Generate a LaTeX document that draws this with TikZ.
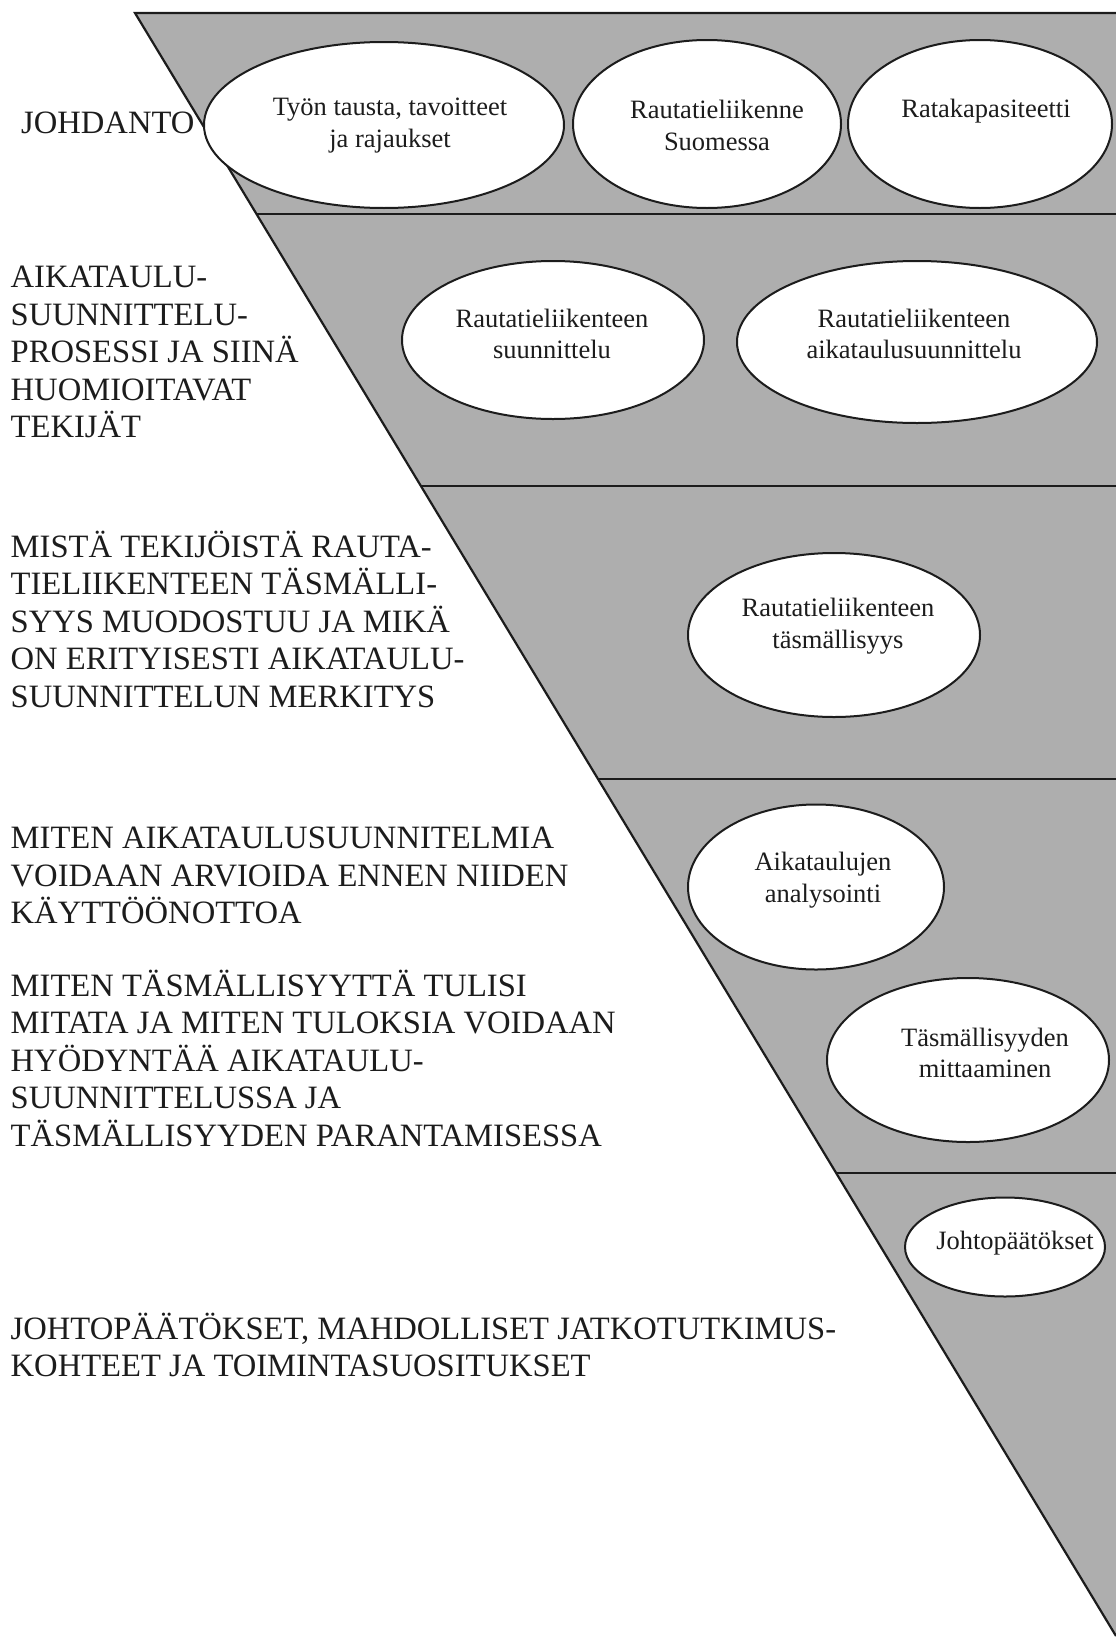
\documentclass[tikz,border=0pt]{standalone}
\usepackage{fontspec}
\setmainfont{Liberation Serif}
\usetikzlibrary{shapes.geometric,calc}
\definecolor{band}{RGB}{174,174,174}
\definecolor{ink}{RGB}{28,28,28}
\begin{document}
\begin{tikzpicture}[x=1pt,y=-1pt,
  oval/.style={draw=ink, line width=2pt, fill=white, ellipse, inner sep=0pt},
  intext/.style={text=ink, align=center, font=\fontsize{26.5}{31.5}\selectfont, inner sep=0pt},
  lefttext/.style={text=ink, align=left, font=\fontsize{32.6}{37.5}\selectfont, inner sep=0pt, anchor=base west},
  rulestyle/.style={draw=ink, line width=2.2pt}]
\useasboundingbox (0,0) rectangle (1116,1638);
\coordinate (A) at (135,13);
\coordinate (B) at (1116,1636);
\coordinate (R) at (1116,13);
\fill[band] (A) -- (R) -- (B) -- cycle;
\coordinate (d1) at ($(A)!0.12384!(B)$);
\coordinate (d2) at ($(A)!0.29144!(B)$);
\coordinate (d3) at ($(A)!0.47197!(B)$);
\coordinate (d4) at ($(A)!0.71473!(B)$);
\draw[rulestyle] (B) -- (A) -- (R);
\draw[rulestyle] (d1) -- (d1 -| R);
\draw[rulestyle] (d2) -- (d2 -| R);
\draw[rulestyle] (d3) -- (d3 -| R);
\draw[rulestyle] (d4) -- (d4 -| R);

% ellipses
\node[oval, minimum width=360pt, minimum height=166pt] (e1) at (384,125) {};
\node[oval, minimum width=268pt, minimum height=168pt] (e2) at (707,124) {};
\node[oval, minimum width=264pt, minimum height=168pt] (e3) at (980,124) {};
\node[oval, minimum width=302pt, minimum height=158pt] (e4) at (553,340) {};
\node[oval, minimum width=360pt, minimum height=162pt] (e5) at (917,342) {};
\node[oval, minimum width=292pt, minimum height=164pt] (e6) at (834,635) {};
\node[oval, minimum width=256pt, minimum height=165pt] (e7) at (816,887) {};
\node[oval, minimum width=282pt, minimum height=164pt] (e8) at (968,1060) {};
\node[oval, minimum width=200pt, minimum height=99pt] (e9) at (1005,1247) {};

% ellipse texts
\node[intext] (t1) at (390,125.5) {Työn tausta, tavoitteet\\ja rajaukset};
\node[intext] (t2) at (717,125.5) {Rautatieliikenne\\Suomessa};
\node[intext] (t3) at (986,111) {Ratakapasiteetti};
\node[intext] (t4) at (552,334) {Rautatieliikenteen\\suunnittelu};
\node[intext] (t5) at (914,334) {Rautatieliikenteen\\aikataulusuunnittelu};
\node[intext] (t6) at (838,626) {Rautatieliikenteen\\täsmällisyys};
\node[intext] (t7) at (823,880) {Aikataulujen\\analysointi};
\node[intext] (t8) at (985,1053) {Täsmällisyyden\\mittaaminen};
\node[intext] (t9) at (1015,1243) {Johtopäätökset};

% left texts (anchor = baseline of the last line)
\node[lefttext] (l1) at (21,133) {JOHDANTO};
\node[lefttext] (l2) at (10.5,437.5) {AIKATAULU-\\SUUNNITTELU-\\PROSESSI JA SIINÄ\\HUOMIOITAVAT\\TEKIJÄT};
\node[lefttext] (l3) at (10.5,707) {MISTÄ TEKIJÖISTÄ RAUTA-\\TIELIIKENTEEN TÄSMÄLLI-\\SYYS MUODOSTUU JA MIKÄ\\ON ERITYISESTI AIKATAULU-\\SUUNNITTELUN MERKITYS};
\node[lefttext] (l4) at (10.5,923.5) {MITEN AIKATAULUSUUNNITELMIA\\VOIDAAN ARVIOIDA ENNEN NIIDEN\\KÄYTTÖÖNOTTOA};
\node[lefttext] (l5) at (10.5,1146) {MITEN TÄSMÄLLISYYTTÄ TULISI\\MITATA JA MITEN TULOKSIA VOIDAAN\\HYÖDYNTÄÄ AIKATAULU-\\SUUNNITTELUSSA JA\\TÄSMÄLLISYYDEN PARANTAMISESSA};
\node[lefttext] (l6) at (10.5,1376.5) {JOHTOPÄÄTÖKSET, MAHDOLLISET JATKOTUTKIMUS-\\KOHTEET JA TOIMINTASUOSITUKSET};
\end{tikzpicture}
\end{document}
